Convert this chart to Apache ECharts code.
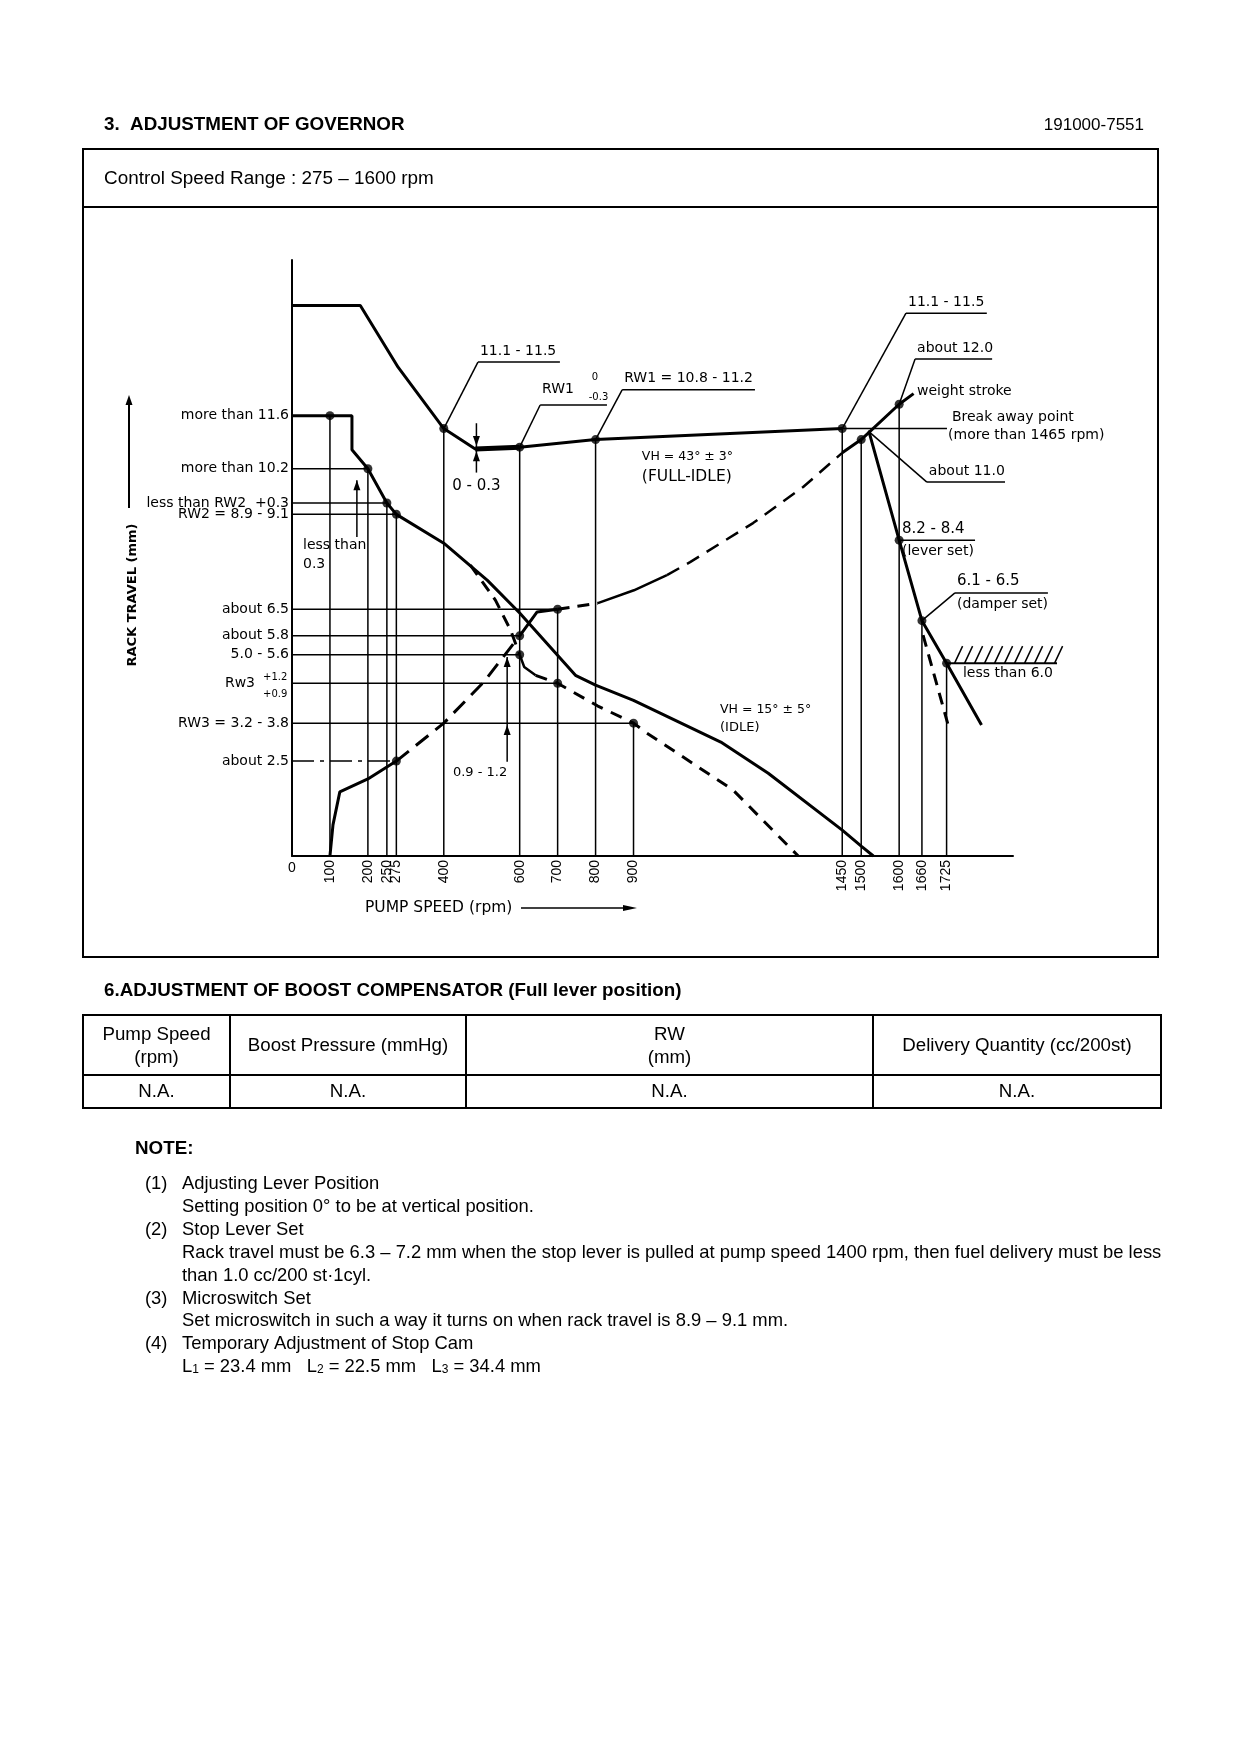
<!DOCTYPE html>
<html>
<head>
<meta charset="utf-8">
<script src="https://cdn.jsdelivr.net/npm/echarts@6/dist/echarts.min.js"></script>
<style>
html, body { margin: 0; padding: 0; background: #fff; }
#main { width: 1240px; height: 1754px; }
</style>
</head>
<body>
<div id="main"></div>
<script>
// pump speed ticks (rpm) and the height each guide line climbs to (mm)
var speedTicks = [100, 200, 250, 275, 400, 600, 700, 800, 900, 1450, 1500, 1600, 1660, 1725];
var guideTops  = [11.6, 10.2, 9.3, 9.0, 11.26, 10.77, 6.5, 10.97, 3.5, 11.26, 10.97, 11.9, 6.2, 5.08];

// rack travel levels marked on the left axis, and the speed where each level line stops
var levelValues = [11.6, 10.2, 9.3, 9.0, 6.5, 5.8, 5.3, 4.55, 3.5, 2.5];
var levelEnds   = [100, 200, 250, 275, 700, 600, 600, 700, 900, 275];
var levelLabels = ['more than 11.6', 'more than 10.2', 'less than RW2  +0.3', 'RW2 = 8.9 - 9.1',
                   'about 6.5', 'about 5.8', '5.0 - 5.6', 'Rw3', 'RW3 = 3.2 - 3.8', 'about 2.5'];

// curves, [rpm, mm]
var fullIdleCurve = [[0, 14.5], [180, 14.5], [280, 12.87], [400, 11.26], [483, 10.72], [600, 10.77], [800, 10.97], [1450, 11.26]];
var flatBand = [[483, 10.72], [600, 10.77]];
var fullLoadCurve = [[0, 11.6], [100, 11.6], [158, 11.6], [158, 10.7], [200, 10.2], [250, 9.3], [275, 9.0], [400, 8.24],
                     [515, 7.26], [600, 6.4], [747, 4.76], [800, 4.5], [900, 4.1], [1130, 3.0], [1255, 2.18],
                     [1450, 0.68], [1500, 0.26], [1532, 0]];
var idleDashA = [[470, 7.66], [536, 6.74], [576, 5.95], [600, 5.3]];
var idleSolid = [[600, 5.3], [612, 4.98], [642, 4.76]];
var idleDashB = [[642, 4.76], [700, 4.55], [806, 3.95], [900, 3.5], [935, 3.24], [1162, 1.74], [1334, 0]];
var riseSolidA = [[100, 0], [108, 0.82], [126, 1.69], [200, 2.03], [275, 2.5]];
var riseDashA = [[275, 2.5], [400, 3.5], [505, 4.58], [600, 5.8]];
var riseSolidB = [[600, 5.8], [646, 6.43], [700, 6.5]];
var riseDashB = [[700, 6.5], [806, 6.66]];
var riseSolidC = [[806, 6.66], [901, 7.0], [988, 7.4]];
var riseDashC = [[988, 7.4], [1049, 7.74], [1215, 8.77], [1347, 9.72], [1450, 10.62]];
var riseSolidD = [[1450, 10.62], [1500, 10.97], [1600, 11.9], [1638, 12.18]];
var cutoffCurve = [[1521, 11.16], [1600, 8.32], [1660, 6.2], [1725, 5.08], [1817, 3.45]];
var cutoffDash = [[1663, 5.82], [1729, 3.45]];

var checkPoints = [[100, 11.6], [200, 10.2], [250, 9.3], [275, 9.0], [400, 11.26], [600, 10.77], [800, 10.97],
                   [1450, 11.26], [1500, 10.97], [1600, 11.9], [1600, 8.32], [1660, 6.2], [1725, 5.08],
                   [700, 6.5], [600, 5.8], [600, 5.3], [700, 4.55], [900, 3.5], [275, 2.5]];

// table
var tableHead = ['Pump Speed\n(rpm)', 'Boost Pressure (mmHg)', 'RW\n(mm)', 'Delivery Quantity (cc/200st)'];
var tableRow = ['N.A.', 'N.A.', 'N.A.', 'N.A.'];

var FF = '"Liberation Sans", Arial, Helvetica, sans-serif';
var CF = '"DejaVu Sans", Verdana, sans-serif';
var ink = '#000';

var chart = echarts.init(document.getElementById('main'));

function path(data, width, dash) {
  return {
    type: 'line', data: data, symbol: 'none', silent: true, clip: false, z: 3,
    lineStyle: { color: ink, width: width, type: dash || 'solid' }
  };
}

var series = [];
speedTicks.forEach(function (s, i) {
  series.push(path([[s, 0], [s, guideTops[i]]], 1.5));
});
levelValues.forEach(function (v, i) {
  var dash = i === levelValues.length - 1 ? [22, 6, 4, 6] : 'solid';
  series.push(path([[0, v], [levelEnds[i], v]], 1.5, dash));
});
series.push(path(fullIdleCurve, 3));
series.push(path(flatBand, 5));
series.push(path(fullLoadCurve, 3));
series.push(path(idleDashA, 3, [12, 8]));
series.push(path(idleSolid, 2.5));
series.push(path(idleDashB, 3, [12, 9]));
series.push(path(riseSolidA, 3));
series.push(path(riseDashA, 3, [16, 9]));
series.push(path(riseSolidB, 3));
series.push(path(riseDashB, 3, [12, 8]));
series.push(path(riseSolidC, 2.5));
series.push(path(riseDashC, 2.5, [14, 9]));
series.push(path(riseSolidD, 3));
series.push(path(cutoffCurve, 3));
series.push(path(cutoffDash, 3, [12, 8]));
series.push({
  type: 'scatter', data: checkPoints, symbol: 'circle', symbolSize: 9, silent: true, clip: false, z: 5,
  itemStyle: { color: ink }
});

chart.setOption({
  backgroundColor: '#fff',
  animation: false,
  grid: { left: 292, top: 260, width: 721, height: 596 },
  xAxis: {
    type: 'value', min: 0, max: 1900,
    axisLine: { show: true, lineStyle: { color: ink, width: 2 } },
    axisTick: { show: false },
    splitLine: { show: false },
    axisLabel: {
      customValues: speedTicks, rotate: 90, margin: 4, fontSize: 14, color: ink, fontFamily: FF,
      hideOverlap: false, formatter: function (v) { return String(v); }
    }
  },
  yAxis: {
    type: 'value', min: 0, max: 15.7,
    axisLine: { show: true, lineStyle: { color: ink, width: 2 } },
    axisTick: { show: false },
    splitLine: { show: false },
    axisLabel: { show: false }
  },
  series: series
});

function P(d) { return chart.convertToPixel({ gridIndex: 0 }, d); }

var g = [];
function txt(x, y, s, size, o) {
  o = o || {};
  var align = o.align || 'left', va = o.va || 'middle';
  g.push({
    type: 'text', x: x, y: y, rotation: o.rot || 0, z: 20,
    style: {
      text: s, fill: ink, font: (o.bold ? 'bold ' : '') + size + 'px ' + (o.ff || FF),
      align: align, textAlign: align, verticalAlign: va, textVerticalAlign: va,
      lineHeight: o.lh || size + 4
    }
  });
}
// chart annotation text
function ctext(x, y, s, size, o) {
  o = o || {};
  o.ff = CF;
  txt(x, y, s, size, o);
}
function seg(x1, y1, x2, y2, w) {
  g.push({ type: 'line', z: 20, shape: { x1: x1, y1: y1, x2: x2, y2: y2 }, style: { stroke: ink, lineWidth: w || 1.5 } });
}
function dseg(a, b, w) { var p = P(a), q = P(b); seg(p[0], p[1], q[0], q[1], w); }
function head(x, y, dir) {
  var pts;
  if (dir === 'up') pts = [[x, y], [x - 3.5, y + 10], [x + 3.5, y + 10]];
  else if (dir === 'down') pts = [[x, y], [x - 3.5, y - 10], [x + 3.5, y - 10]];
  else pts = [[x, y], [x - 14, y - 3], [x - 14, y + 3]];
  g.push({ type: 'polygon', z: 21, shape: { points: pts }, style: { fill: ink } });
}
// label sitting on an underline drawn between two speeds at one level
function ulabel(x0, x1, y, s, sub, size) {
  var a = P([x0, y]), b = P([x1, y]);
  seg(a[0], a[1], b[0], b[1], 1.5);
  ctext(a[0] + 2, a[1] - 2, s, size || 14, { va: 'bottom' });
  if (sub) ctext(a[0] + 2, a[1] + 2, sub, 14, { va: 'top' });
  return [x0, y];
}
function atxt(d, s, size, o) { var p = P(d); ctext(p[0], p[1], s, size, o); }

// ---- document frame ----
g.push({ type: 'rect', z: 1, shape: { x: 83, y: 149, width: 1075, height: 808 }, style: { fill: 'none', stroke: ink, lineWidth: 2 } });
seg(83, 207, 1158, 207, 2);
txt(104, 125, '3.  ADJUSTMENT OF GOVERNOR', 18.8, { bold: true });
txt(1144, 125, '191000-7551', 17, { align: 'right' });
txt(104, 179, 'Control Speed Range : 275 \u2013 1600 rpm', 18.9);

// ---- axis titles ----
var o = P([0, 0]);
txt(o[0], o[1] + 12, '0', 14, { align: 'center' });
ctext(133, 595, 'RACK TRAVEL (mm)', 13, { bold: true, align: 'center', rot: Math.PI / 2 });
seg(129, 508, 129, 402, 2);
head(129, 395, 'up');
ctext(365, 908, 'PUMP SPEED (rpm)', 15.5);
seg(521, 908, 625, 908, 1.5);
head(637, 908, 'right');

// ---- left level labels ----
levelValues.forEach(function (v, i) {
  var p = P([0, v]);
  if (levelLabels[i] === 'Rw3') {
    ctext(p[0] - 37, p[1], 'Rw3', 14, { align: 'right' });
    ctext(p[0] - 29, p[1] - 6, '+1.2', 10);
    ctext(p[0] - 29, p[1] + 11, '+0.9', 10);
  } else {
    ctext(p[0] - 3, p[1], levelLabels[i], 14, { align: 'right' });
  }
});

// ---- annotations ----
dseg([400, 11.26], ulabel(490, 706, 13.01, '11.1 - 11.5'));
dseg([600, 10.77], ulabel(654, 830, 11.88, ''));
atxt([659, 12.28], 'RW1', 14);
atxt([790, 12.6], '0', 10);
atxt([782, 12.07], '-0.3', 10);
dseg([800, 10.97], ulabel(870, 1220, 12.28, 'RW1 = 10.8 - 11.2'));
atxt([922, 10.51], 'VH = 43\u00b0 \u00b1 3\u00b0', 12.5);
atxt([922, 9.98], '(FULL-IDLE)', 15.5);
atxt([1128, 3.85], 'VH = 15\u00b0 \u00b1 5\u00b0', 12.5);
atxt([1128, 3.37], '(IDLE)', 13);
atxt([422, 9.75], '0 - 0.3', 15);
atxt([29, 8.17], 'less than', 14);
atxt([29, 7.67], '0.3', 14);
atxt([424, 2.19], '0.9 - 1.2', 13);

dseg([1450, 11.26], ulabel(1618, 1831, 14.3, '11.1 - 11.5'));
dseg([1600, 11.9], ulabel(1642, 1845, 13.09, 'about 12.0'));
atxt([1647, 12.25], 'weight stroke', 14);
dseg([1450, 11.26], [1726, 11.26], 1.5);
atxt([1739, 11.56], 'Break away point', 14);
atxt([1729, 11.09], '(more than 1465 rpm)', 14);
dseg([1518, 11.2], ulabel(1673, 1879, 9.85, 'about 11.0'));
ulabel(1602, 1800, 8.32, '8.2 - 8.4', '(lever set)', 15);
dseg([1660, 6.2], ulabel(1747, 1992, 6.93, '6.1 - 6.5', '(damper set)', 15));
atxt([1768, 4.82], 'less than 6.0', 14);

// hatched stop line
var h0 = P([1725, 5.08]), h1 = P([2016, 5.08]);
seg(h0[0], h0[1], h1[0], h1[1], 2);
for (var hx = h0[0] + 8; hx < h1[0]; hx += 10) seg(hx, h0[1], hx + 8, h0[1] - 17, 1.5);

// dimension arrows
var a1 = P([486, 11.4]), a2 = P([486, 10.1]);
seg(a1[0], a1[1], a2[0], a2[1], 1.5);
head(a1[0], P([486, 10.8])[1], 'down');
head(a1[0], P([486, 10.66])[1], 'up');
var b1 = P([171, 9.9]), b2 = P([171, 8.4]);
seg(b1[0], b1[1], b2[0], b2[1], 1.5);
head(b1[0], b1[1], 'up');
var c1 = P([567, 5.24]), c2 = P([567, 2.48]);
seg(c1[0], c1[1], c2[0], c2[1], 1.5);
head(c1[0], c1[1], 'up');
head(c1[0], P([567, 3.45])[1], 'up');

// ---- section 6 table ----
txt(104, 991, '6.ADJUSTMENT OF BOOST COMPENSATOR (Full lever position)', 18.8, { bold: true });
var cols = [83, 230, 466, 873, 1161];
var rows = [1015, 1075, 1108];
g.push({ type: 'rect', z: 1, shape: { x: 83, y: 1015, width: 1078, height: 93 }, style: { fill: 'none', stroke: ink, lineWidth: 2 } });
seg(83, rows[1], 1161, rows[1], 2);
for (var c = 1; c < 4; c++) seg(cols[c], rows[0], cols[c], rows[2], 2);
tableHead.forEach(function (h, i) {
  var cx = (cols[i] + cols[i + 1]) / 2;
  txt(cx, (rows[0] + rows[1]) / 2 + 1, h, 18.7, { align: 'center', lh: 23 });
  txt(cx, (rows[1] + rows[2]) / 2, tableRow[i], 18.7, { align: 'center' });
});

// ---- notes ----
txt(135, 1149, 'NOTE:', 18.8, { bold: true });
var noteLines = [
  ['(1)', 'Adjusting Lever Position'],
  ['', 'Setting position 0\u00b0 to be at vertical position.'],
  ['(2)', 'Stop Lever Set'],
  ['', 'Rack travel must be 6.3 \u2013 7.2 mm when the stop lever is pulled at pump speed 1400 rpm, then fuel delivery must be less'],
  ['', 'than 1.0 cc/200 st\u00b71cyl.'],
  ['(3)', 'Microswitch Set'],
  ['', 'Set microswitch in such a way it turns on when rack travel is 8.9 \u2013 9.1 mm.'],
  ['(4)', 'Temporary Adjustment of Stop Cam']
];
noteLines.forEach(function (l, i) {
  var y = 1184 + i * 22.9;
  if (l[0]) txt(145, y, l[0], 18.4);
  txt(182, y, l[1], 18.4);
});
// stop cam line with subscripts
var ctx = document.createElement('canvas').getContext('2d');
var pieces = [['L', 0], ['1', 1], [' = 23.4 mm   L', 0], ['2', 1], [' = 22.5 mm   L', 0], ['3', 1], [' = 34.4 mm', 0]];
var lx = 182, ly = 1367;
pieces.forEach(function (pc) {
  var size = pc[1] ? 12 : 18.4;
  ctx.font = size + 'px ' + FF;
  txt(lx, ly + (pc[1] ? 3 : 0), pc[0], size);
  lx += ctx.measureText(pc[0]).width;
});

chart.setOption({ graphic: { elements: g } });
</script>
</body>
</html>
